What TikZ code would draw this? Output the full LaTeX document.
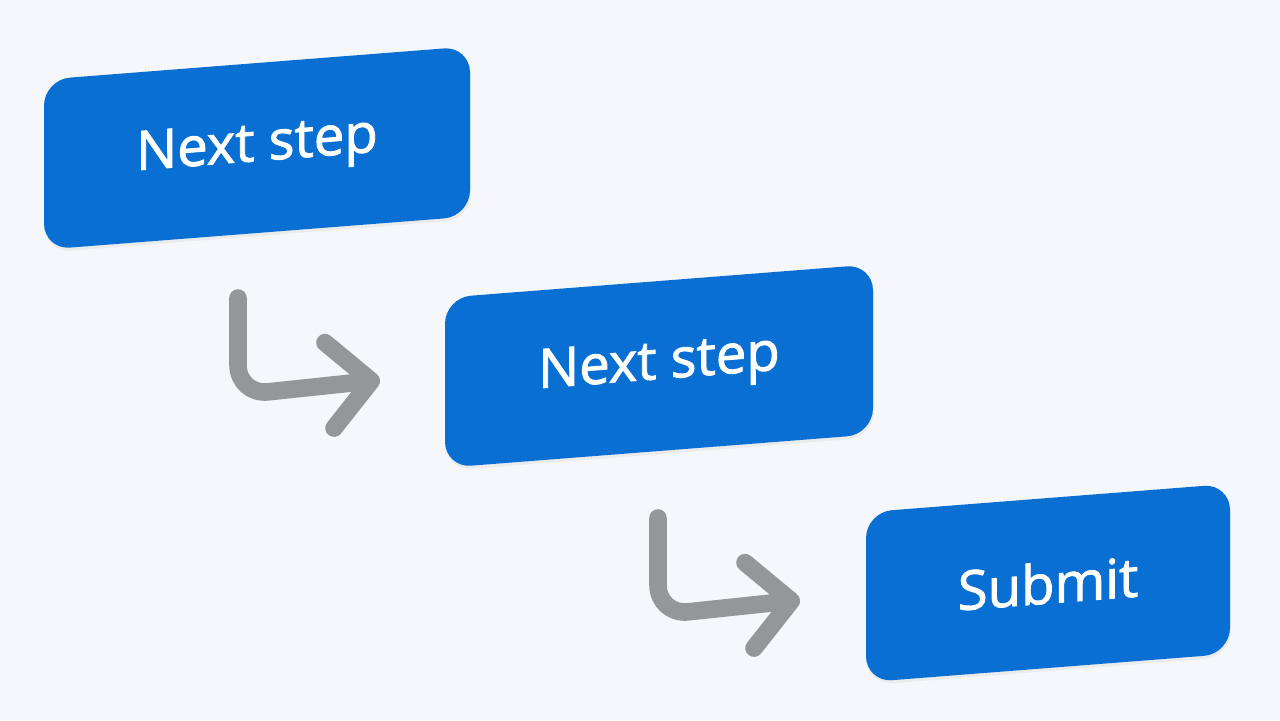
\documentclass[tikz,border=0pt]{standalone}
\usepackage{fontspec}
\setmainfont{Open Sans}
\newfontfamily\semibold{Open Sans}[FakeBold=1.6]
\usetikzlibrary{arrows.meta}
\definecolor{bgcol}{HTML}{F5F7FA}
\definecolor{stepblue}{HTML}{0A6FD3}
\definecolor{hookgray}{HTML}{959697}
\begin{document}
\begin{tikzpicture}[x=0.1mm, y=-0.1mm,
    step box/.style={fill=stepblue, rounded corners=2.6mm, yslant=0.078,
      minimum height=17mm, text=white, font=\semibold\fontsize{15.5}{19}\selectfont},
    step shadow/.style={fill=black!8, rounded corners=2.6mm, yslant=0.078, minimum height=17mm},
    hook/.style={draw=hookgray, line width=5pt, line cap=round, rounded corners=3mm,
      -{Straight Barb[length=4.2mm, width=8.6mm, round]}}]
  \fill[bgcol] (0,0) rectangle (1280,720);

  % shadows
  \node[step shadow, minimum width=42.6mm] at (258,151) {};
  \node[step shadow, minimum width=42.8mm] at (660,369) {};
  \node[step shadow, minimum width=36.4mm] at (1049,586) {};

  % boxes
  \node[step box, minimum width=42.6mm] (step-1) at (257,148) {Next step};
  \node[step box, minimum width=42.8mm] (step-2) at (659,366) {Next step};
  \node[step box, minimum width=36.4mm] (submit) at (1048,583) {Submit};

  % hook arrows
  \foreach \dx/\dy [count=\i] in {0/0,420/220} {
    \coordinate (hook-start-\i) at (238+\dx,298+\dy);
    \coordinate (hook-bend-\i) at (238+\dx,395+\dy);
    \coordinate (hook-end-\i) at (380+\dx,380+\dy);
    \draw[hook] (hook-start-\i) -- (hook-bend-\i) -- (hook-end-\i);
  }
\end{tikzpicture}
\end{document}
